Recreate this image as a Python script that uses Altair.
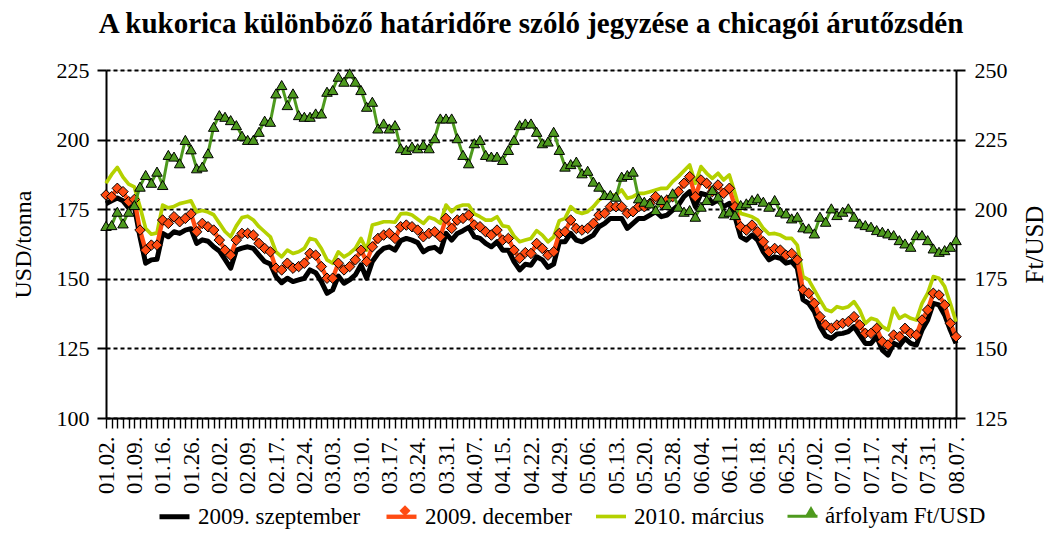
import altair as alt
import pandas as pd

tick_labels = ["01.02.", "01.09.", "01.16.", "01.26.", "02.02.", "02.09.", "02.17.", "02.24.",
               "03.03.", "03.10.", "03.17.", "03.24.", "03.31.", "04.07.", "04.15.", "04.22.",
               "04.29.", "05.06.", "05.13.", "05.20.", "05.28.", "06.04.", "06.11.", "06.18.",
               "06.25.", "07.02.", "07.10.", "07.17.", "07.24.", "07.31.", "08.07."]

sep = [177, 178, 179, 178, 175.5, 176, 165, 155.6, 156.8, 157,
       166.3, 165.1, 166.9, 166.3, 167.5, 168, 162.7, 164, 163.5, 161.5,
       160, 157, 153.8, 160.3, 161, 161.5, 160.9, 158.5, 156.2, 155.3,
       150.8, 148.6, 150.2, 149.0, 149.6, 150.2, 153.2, 152.2, 149.0, 144.8,
       146.0, 151.0, 148.4, 149.6, 151.4, 155.0, 150.2, 156.2, 159.1, 160.9,
       161.5, 160.3, 163.7, 164.5, 163.9, 163.0, 159.7, 160.9, 161.3, 159.7,
       166.3, 163.9, 166.3, 167.3, 168.5, 165.1, 164.5, 162.7, 161.5, 163.3,
       160.3, 160.3, 156.2, 153.2, 155.2, 154.9, 157.9, 156.8, 154.1, 155.3,
       163.3, 163.3, 166.3, 163.9, 163.3, 164.5, 165.7, 168.7, 169.9, 171.7,
       171.7, 171.7, 168.1, 169.9, 171.7, 171.7, 172.9, 174.1, 172.3, 172.9,
       174.7, 176.5, 179.5, 181.3, 175.9, 180.7, 180.1, 177.1, 178.3, 175.9,
       177.1, 172.3, 165.1, 163.9, 165.7, 163.9, 159.7, 156.8, 157.9, 157.4,
       155.6, 156.2, 153.8, 142.5, 141.2, 138.2, 132.8, 129.5, 128.6, 130.2,
       130.4, 131.0, 132.8, 129.8, 126.8, 126.8, 129.2, 124.4, 122.6, 126.8,
       125.9, 128.6, 126.8, 126.2, 131.6, 135.2, 141.2, 140.6, 137.0, 131.6,
       126.8]

dec = [180.1, 179.5, 182.5, 181.3, 177.7, 178.5, 167.5, 160.3, 162.1, 162.1,
       171.1, 169.9, 172.3, 170.5, 171.7, 173.3, 166.9, 169.9, 168.7, 167.5,
       163.9, 160.3, 158.5, 163.9, 166.3, 166.3, 165.7, 162.7, 160.9, 159.7,
       153.8, 153.2, 155.6, 153.8, 154.4, 155.6, 159.1, 158.5, 154.4, 150.2,
       150.2, 155.6, 153.2, 154.4, 156.8, 160.3, 156.2, 161.5, 164.5, 165.7,
       166.3, 164.5, 168.7, 169.3, 168.7, 167.5, 165.1, 166.3, 166.9, 165.1,
       171.7, 168.1, 171.1, 171.7, 172.9, 169.3, 168.7, 166.9, 165.7, 167.5,
       163.9, 164.5, 160.3, 157.4, 159.4, 159.1, 162.7, 160.9, 158.5, 159.7,
       166.3, 166.9, 171.1, 168.1, 167.5, 168.1, 169.9, 172.9, 173.5, 175.9,
       175.9, 175.9, 173.5, 174.1, 175.9, 175.9, 177.1, 179.5, 177.1, 178.3,
       179.5, 181.3, 184.3, 186.7, 179.5, 185.5, 184.3, 181.3, 183.7, 180.7,
       182.5, 175.9, 168.7, 167.5, 169.3, 166.9, 163.3, 159.7, 160.9, 160.3,
       158.5, 159.1, 156.8, 146.0, 144.8, 141.2, 136.4, 133.4, 132.2, 133.4,
       134.0, 134.6, 136.4, 133.4, 130.4, 130.4, 132.2, 127.4, 126.2, 129.8,
       129.2, 132.2, 130.4, 129.8, 135.2, 138.8, 144.8, 144.2, 140.6, 134.0,
       129.2]

mar = [184.3, 187.5, 190, 186.5, 184, 183, 175.9, 168.1, 166, 166.5,
       176.5, 175.5, 176, 177, 177.5, 178, 174, 174.5, 174, 173,
       170, 167, 165.1, 169, 172, 172.5, 171.1, 168.7, 166.9, 165.1,
       159.7, 157.9, 160.3, 159.1, 159.7, 160.9, 164.5, 163.9, 160.9, 156.8,
       155.6, 159.7, 157.9, 159.1, 160.9, 164.5, 160.3, 169.3, 169.9, 170.5,
       170.5, 170.3, 173.3, 173.5, 172.9, 171.4, 169.9, 172.1, 171.4, 169.9,
       176.5, 174.1, 175.9, 176.5, 176.5, 173.3, 172.3, 171.1, 171.1, 172.3,
       169.0, 168.7, 165.4, 163.3, 163.9, 164.5, 167.3, 165.7, 163.3, 165.1,
       170.9, 171.7, 175.9, 174.1, 173.5, 174.1, 175.9, 178.3, 179.5, 180.1,
       180.1, 181.9, 178.9, 179.5, 180.7, 180.7, 181.3, 181.9, 182.5, 182.5,
       184.9, 186.7, 188.8, 190.9, 184.3, 190.3, 187.9, 186.1, 187.9, 185.5,
       187.3, 180.7, 173.5, 172.9, 172.3, 171.1, 168.1, 166.1, 166.3, 165.7,
       164.5, 164.5, 162.1, 150.8, 149.6, 146.0, 142.4, 139.0, 138.2, 140.0,
       139.4, 140.0, 141.8, 138.8, 134.0, 135.8, 135.2, 132.8, 131.6, 139.4,
       135.8, 137.0, 135.8, 135.2, 141.2, 144.8, 150.8, 150.2, 147.2, 141.2,
       134.6]

fx = [194.0, 194.3, 199.1, 194.9, 199.1, 201.5, 208.1, 212.3, 209.5, 213.5,
      208.7, 219.5, 218.9, 216.5, 224.9, 221.5, 214.7, 215.3, 220.1, 229.6,
      233.8, 233.2, 232.0, 230.2, 226.4, 224.9, 224.9, 227.8, 231.8, 231.4,
      241.6, 244.6, 237.4, 241.6, 233.8, 233.2, 233.2, 234.4, 234.4, 242.2,
      242.8, 247.6, 245.8, 248.8, 245.8, 242.8, 236.8, 238.6, 229.0, 230.8,
      229.0, 230.2, 221.9, 221.3, 222.5, 221.9, 223.1, 221.9, 225.5, 232.6,
      232.6, 232.6, 225.5, 219.5, 216.5, 223.7, 224.9, 219.5, 218.9, 218.9,
      217.7, 221.3, 224.9, 230.2, 230.8, 230.8, 227.8, 223.7, 224.3, 227.8,
      221.3, 215.3, 216.2, 217.1, 212.9, 213.8, 209.9, 208.1, 205.1, 205.1,
      204.5, 211.7, 212.3, 213.5, 203.9, 202.7, 202.1, 199.7, 203.3, 201.5,
      205.7, 200.9, 199.1, 199.7, 197.3, 200.9, 203.3, 206.9, 204.5, 198.5,
      199.1, 197.9, 201.5, 202.1, 203.3, 203.9, 202.7, 200.9, 203.3, 199.1,
      198.5, 196.7, 197.3, 193.5, 193.1, 191.3, 197.3, 195.5, 200.3, 197.9,
      199.1, 200.3, 197.3, 194.9, 194.3, 193.7, 192.5, 191.9, 191.3, 190.7,
      188.9, 187.7, 186.5, 190.7, 190.7, 188.9, 185.9, 184.7, 185.3, 186.5,
      188.9]

names = ["2009. szeptember", "2009. december", "2010. március", "árfolyam Ft/USD"]
marker_keys = ["m0", "m1", "m2", "m3"]
colors = ["#000000", "#FF4B12", "#B4D100", "#4E9A1E"]
widths = [5, 3, 4.5, 2]
shapes = ["M0,0", "diamond", "M0,0", "triangle-up"]

n = len(sep)
rows = []
for name, key, vals in zip(names, marker_keys, [sep, dec, mar, fx]):
    for i, v in enumerate(vals):
        rows.append({"idx": i, "series": name, "marker": key, "value": v})
df = pd.DataFrame(rows)

label_arr = [tick_labels[i // 5] if i % 5 == 0 else "" for i in range(n)]
label_expr = "[" + ",".join("'" + s + "'" for s in label_arr) + "][datum.value]"
marker_label_expr = ("[" + ",".join("'" + s + "'" for s in names) + "][indexof(["
                     + ",".join("'" + k + "'" for k in marker_keys) + "], datum.value)]")

FONT = "Liberation Serif"
LX, LY = 51, 429
LFS = 23
LOFF = 6
CPAD = 16

legend_lines = alt.Legend(
    title=None, orient="none", direction="horizontal", legendX=LX, legendY=LY,
    labelFont=FONT, labelFontSize=LFS, labelColor="black", labelLimit=500,
    symbolSize=900, labelOffset=LOFF, columnPadding=CPAD, symbolType="stroke",
    symbolOpacity=1, zindex=0,
)
legend_marks = alt.Legend(
    title=None, orient="none", direction="horizontal", legendX=LX + 9.5, legendY=LY,
    labelFont=FONT, labelFontSize=LFS, labelOpacity=0, labelExpr=marker_label_expr,
    labelLimit=500, symbolSize=120, labelOffset=LOFF + 19, columnPadding=CPAD,
    symbolStrokeColor="black", symbolStrokeWidth=1, symbolOpacity=1, zindex=1,
)

color_enc = alt.Color("series:N", scale=alt.Scale(domain=names, range=colors),
                      legend=legend_lines)
width_enc = alt.StrokeWidth("series:N", scale=alt.Scale(domain=names, range=widths),
                            legend=legend_lines)
fill_enc = alt.Fill("marker:N", scale=alt.Scale(domain=marker_keys, range=colors),
                    legend=legend_marks)
shape_enc = alt.Shape("marker:N", scale=alt.Scale(domain=marker_keys, range=shapes),
                      legend=legend_marks)

x_enc = alt.X(
    "idx:Q",
    scale=alt.Scale(domain=[0, n - 1], nice=False, zero=False),
    axis=alt.Axis(values=list(range(n)), labelExpr=label_expr, labelAngle=270,
                  labelAlign="right", labelBaseline="middle", labelOverlap=False,
                  labelFlush=False, labelPadding=8, tickSize=10, tickWidth=1.4,
                  tickColor="black", domainColor="black", domainWidth=2, grid=False,
                  title=None, labelFont=FONT, labelFontSize=23, labelColor="black"),
)

y_left = alt.Y(
    "value:Q",
    scale=alt.Scale(domain=[100, 225], nice=False, zero=False),
    axis=alt.Axis(values=[100, 125, 150, 175, 200, 225], grid=True, gridColor="black",
                  gridDash=[4, 3], gridWidth=2, tickSize=9, tickWidth=2, tickColor="black",
                  domainColor="black", domainWidth=2, labelPadding=8, labelFont=FONT,
                  labelFontSize=22, labelColor="black", title="USD/tonna", titleFont=FONT,
                  titleFontSize=24, titleFontWeight="normal", titleColor="black",
                  titlePadding=21),
)

y_right = alt.Y(
    "value:Q",
    scale=alt.Scale(domain=[125, 250], nice=False, zero=False),
    axis=alt.Axis(orient="right", values=[125, 150, 175, 200, 225, 250], grid=False,
                  tickSize=9, tickWidth=2, tickColor="black", domainColor="black",
                  domainWidth=2, labelPadding=9, labelFont=FONT, labelFontSize=22,
                  labelColor="black", title="Ft/USD", titleFont=FONT, titleFontSize=25,
                  titleFontWeight="normal", titleColor="black", titleAngle=270,
                  titlePadding=40),
)

base = alt.Chart(df)


def only(name):
    return base.transform_filter(alt.datum.series == name)


def line(name, y):
    return only(name).mark_line(strokeJoin="round").encode(
        x=x_enc, y=y, color=color_enc, strokeWidth=width_enc)


def pts(name, y):
    return only(name).mark_point(filled=True, size=110, stroke="black", strokeWidth=1,
                                 opacity=1).encode(x=x_enc, y=y, fill=fill_enc,
                                                   shape=shape_enc)


left = alt.layer(line(names[0], y_left), line(names[2], y_left),
                 line(names[1], y_left), pts(names[1], y_left))
right = alt.layer(line(names[3], y_right), pts(names[3], y_right))

chart = alt.layer(left, right).resolve_scale(y="independent").properties(
    width=850,
    height=348,
    padding={"left": 98, "top": 62, "right": 90, "bottom": 111},
    autosize=alt.AutoSizeParams(type="none"),
    title=alt.TitleParams(
        "A kukorica különböző határidőre szóló jegyzése a chicagói árutőzsdén",
        font=FONT, fontSize=29, fontWeight="bold", color="black", anchor="middle",
        offset=20),
).configure_view(stroke=None).configure(background="white")

chart.save("out.html", embed_options={"renderer": "svg", "actions": False})
